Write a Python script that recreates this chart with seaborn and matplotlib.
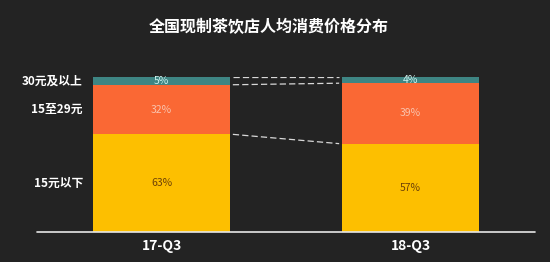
import matplotlib
matplotlib.use("Agg")
import matplotlib.pyplot as plt
import seaborn as sns
import pandas as pd
import numpy as np

periods = ["17-Q3", "18-Q3"]
categories = ["15元以下", "15至29元", "30元及以上"]
low = [63, 57]      # 15元以下
mid = [32, 39]      # 15至29元
high = [5, 4]       # 30元及以上
title = "全国现制茶饮店人均消费价格分布"

colors = ["#fdbf00", "#fa6834", "#3e8583"]
label_colors = ["#6e4208", "#f9c3ad", "#cdf2ef"]
bg = "#232323"

sns.set_theme(style="dark")
plt.rcParams["font.family"] = ["Noto Sans CJK SC", "DejaVu Sans"]

fig = plt.figure(figsize=(5.5, 2.62), dpi=100, facecolor=bg)
ax = fig.add_axes([0.0673, 0.1145, 0.9054, 0.5916])
ax.set_facecolor(bg)

series = [low, mid, high]
cum = np.cumsum(np.array(series), axis=0)  # stacked tops
# draw from tallest to shortest so each layer shows
for i in reversed(range(len(series))):
    df = pd.DataFrame({"period": periods, "value": cum[i]})
    sns.barplot(data=df, x="period", y="value", color=colors[i], saturation=1,
                width=0.553, ax=ax, linewidth=0, errorbar=None)

ax.set_xlim(-0.5, 1.5)
ax.set_ylim(0, 100)

# percentage labels
for j in range(len(periods)):
    base = 0
    for i, s in enumerate(series):
        ax.text(j, base + s[j] / 2, f"{s[j]}%", ha="center", va="center",
                fontsize=7.5, color=label_colors[i])
        base += s[j]

# category labels at left of first bar
base = 0
for i, s in enumerate(series):
    ax.text(-0.316, base + s[0] / 2, categories[i], ha="right", va="center",
            fontsize=8.5, fontweight="bold", color="white")
    base += s[0]

# dashed connectors between bars
hw = 0.553 / 2
for k in [0, 1, 2]:
    y0 = cum[k][0]
    y1 = cum[k][1]
    ax.plot([0 + hw + 0.01, 1 - hw - 0.01], [y0, y1], ls=(0, (5, 2.5)),
            color="#d8d8d8", lw=0.9)

ax.axhline(0, color="#e6e6e6", lw=1.2, clip_on=False)

ax.set_xlabel("")
ax.set_ylabel("")
ax.set_yticks([])
ax.tick_params(axis="x", length=0, pad=5)
for lab in ax.get_xticklabels():
    lab.set_color("white")
    lab.set_fontweight("bold")
    lab.set_fontsize(10)
for sp in ax.spines.values():
    sp.set_visible(False)
ax.grid(False)

fig.text(0.488, 0.897, title, ha="center", va="center", fontsize=11.5,
         fontweight="bold", color="white")

fig.savefig("out.png", dpi=100, facecolor=bg)
